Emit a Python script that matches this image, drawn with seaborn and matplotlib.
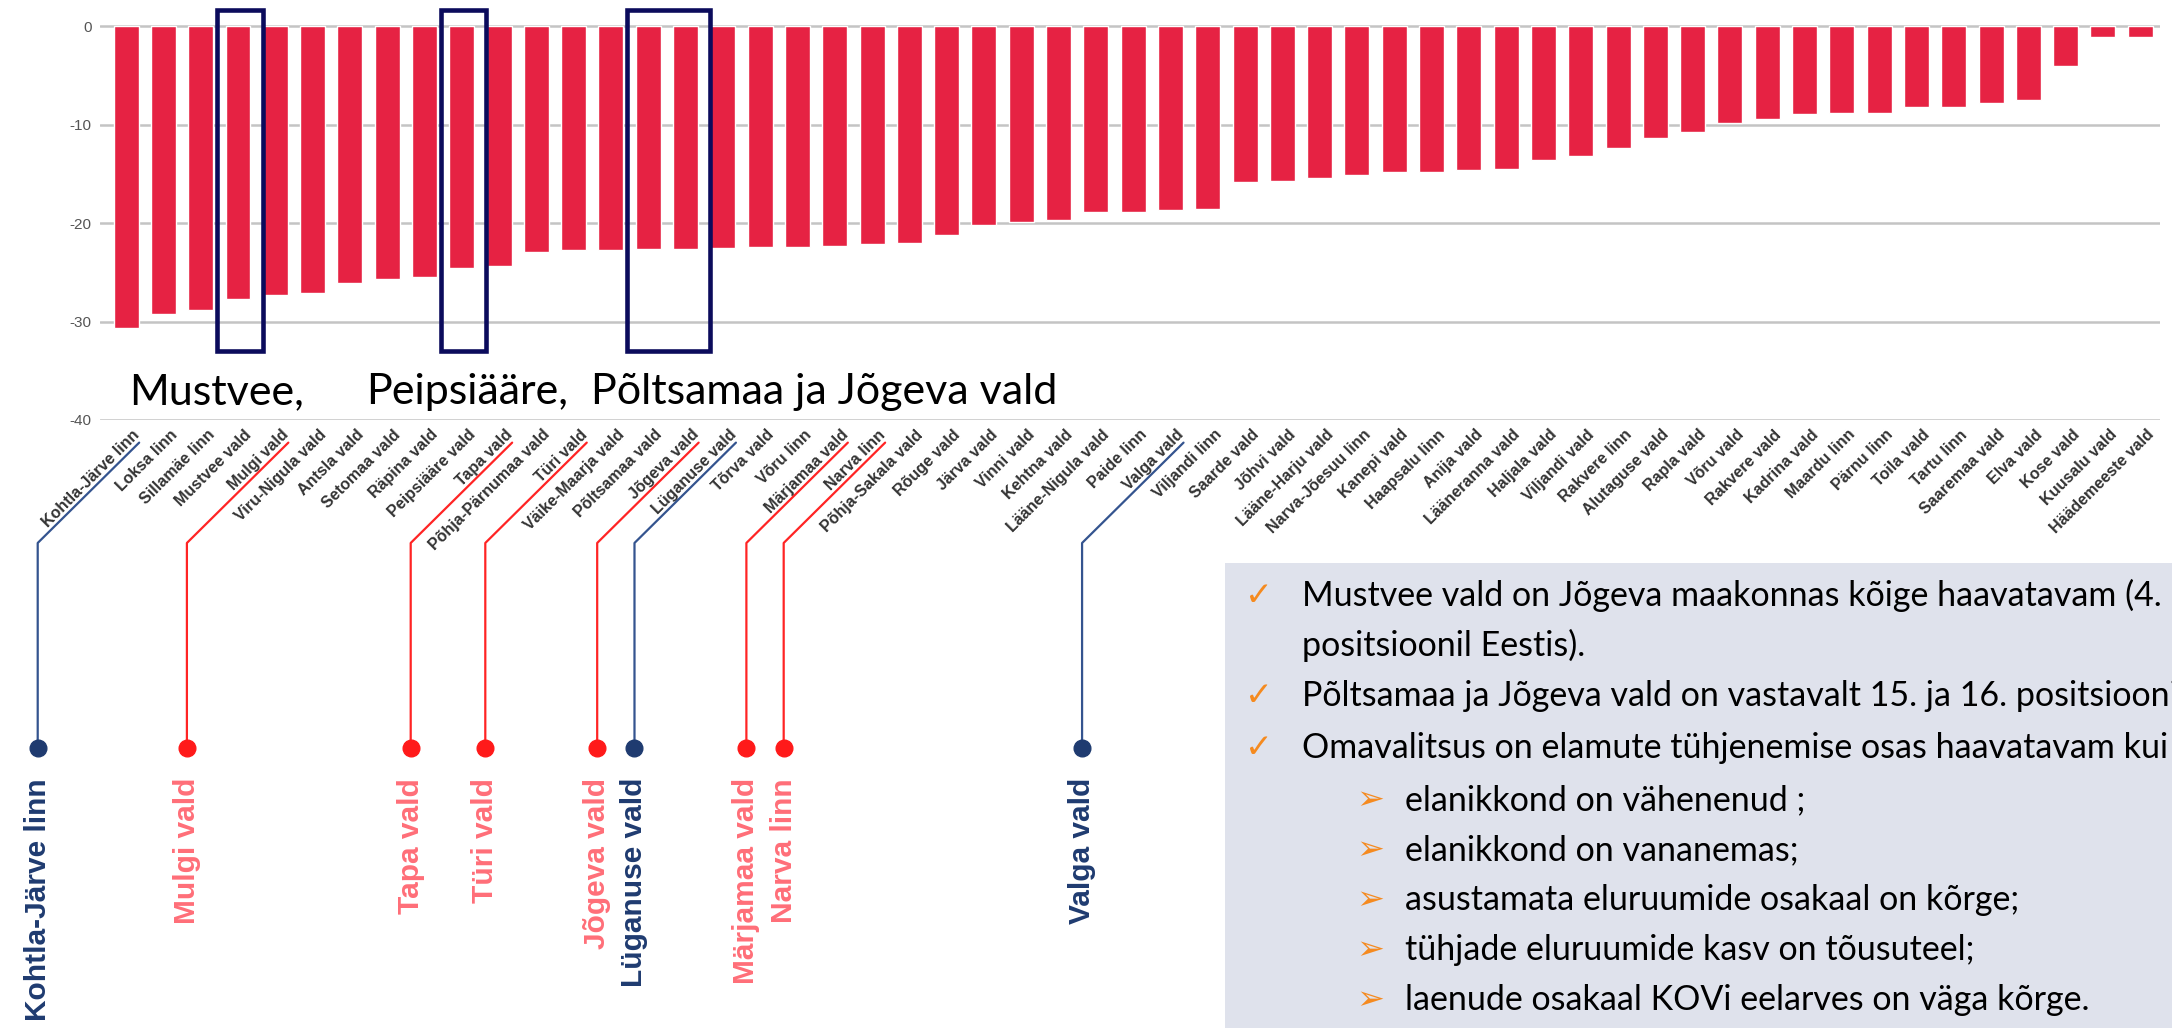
import matplotlib
matplotlib.use('Agg')
import matplotlib.pyplot as plt
from matplotlib.patches import Rectangle
from matplotlib.transforms import ScaledTranslation
import seaborn as sns
import pandas as pd

# omavalitsused ja nende väärtused
names = ['Kohtla-Järve linn', 'Loksa linn', 'Sillamäe linn', 'Mustvee vald', 'Mulgi vald',
         'Viru-Nigula vald', 'Antsla vald', 'Setomaa vald', 'Räpina vald', 'Peipsiääre vald',
         'Tapa vald', 'Põhja-Pärnumaa vald', 'Türi vald', 'Väike-Maarja vald', 'Põltsamaa vald',
         'Jõgeva vald', 'Lüganuse vald', 'Tõrva vald', 'Võru linn', 'Märjamaa vald',
         'Narva linn', 'Põhja-Sakala vald', 'Rõuge vald', 'Järva vald', 'Vinni vald',
         'Kehtna vald', 'Lääne-Nigula vald', 'Paide linn', 'Valga vald', 'Viljandi linn',
         'Saarde vald', 'Jõhvi vald', 'Lääne-Harju vald', 'Narva-Jõesuu linn', 'Kanepi vald',
         'Haapsalu linn', 'Anija vald', 'Lääneranna vald', 'Haljala vald', 'Viljandi vald',
         'Rakvere linn', 'Alutaguse vald', 'Rapla vald', 'Võru vald', 'Rakvere vald',
         'Kadrina vald', 'Maardu linn', 'Pärnu linn', 'Toila vald', 'Tartu linn',
         'Saaremaa vald', 'Elva vald', 'Kose vald', 'Kuusalu vald', 'Häädemeeste vald']

values = [-30.6, -29.2, -28.8, -27.7, -27.3, -27.1, -26.1, -25.7, -25.5, -24.5,
          -24.3, -22.9, -22.7, -22.7, -22.6, -22.6, -22.5, -22.4, -22.4, -22.3,
          -22.1, -22.0, -21.2, -20.2, -19.9, -19.7, -18.9, -18.9, -18.7, -18.6,
          -15.8, -15.7, -15.4, -15.1, -14.8, -14.8, -14.6, -14.5, -13.6, -13.2,
          -12.4, -11.3, -10.7, -9.8, -9.4, -8.9, -8.8, -8.8, -8.2, -8.2,
          -7.8, -7.5, -4.0, -1.1, -1.1]

y_ticks = [0, -10, -20, -30, -40]

# raamitud tulbad
highlight_groups = [['Mustvee vald'], ['Peipsiääre vald'], ['Põltsamaa vald', 'Jõgeva vald']]
highlight_texts = ['Mustvee,', 'Peipsiääre,', 'Põltsamaa ja Jõgeva vald']

callout_names = ['Kohtla-Järve linn', 'Mulgi vald', 'Tapa vald', 'Türi vald', 'Jõgeva vald',
                 'Lüganuse vald', 'Märjamaa vald', 'Narva linn', 'Valga vald']
callout_groups = ['blue', 'red', 'red', 'red', 'red', 'blue', 'red', 'red', 'blue']

bullets = ['Mustvee vald on Jõgeva maakonnas kõige haavatavam (4.',
           'positsioonil Eestis).',
           'Põltsamaa ja Jõgeva vald on vastavalt 15. ja 16. positsioonil',
           'Omavalitsus on elamute tühjenemise osas haavatavam kui']
sub_bullets = ['elanikkond on vähenenud ;',
               'elanikkond on vananemas;',
               'asustamata eluruumide osakaal on kõrge;',
               'tühjade eluruumide kasv on tõusuteel;',
               'laenude osakaal KOVi eelarves on väga kõrge.']

bar_color = '#E62243'
line_colors = {'red': '#FF2424', 'blue': '#34548F'}
text_colors = {'red': '#FF6E78', 'blue': '#1F3B70'}
dot_colors = {'red': '#FF1A1A', 'blue': '#1F3B70'}
slide_font = ['Lato', 'DejaVu Sans']

sns.set_style('white')
plt.rcParams['font.family'] = ['Liberation Sans', 'DejaVu Sans']
plt.rcParams['axes.unicode_minus'] = False

fig = plt.figure(figsize=(21.72, 10.28), dpi=100)
ax = fig.add_axes([0.04604, 0.59144, 0.94844, 0.40768])

df = pd.DataFrame({'name': names, 'value': values})
sns.barplot(data=df, x='name', y='value', color=bar_color, saturation=1,
            width=0.67, ax=ax)

ax.set_xlim(-0.70, 54.53)
ax.set_ylim(-40, 2.6)
ax.set_yticks(y_ticks)
ax.set_yticklabels([str(t) for t in y_ticks])
ax.yaxis.grid(True, color='#C4C4C4', linewidth=1.8)
ax.set_axisbelow(True)
for s in ax.spines.values():
    s.set_visible(False)
ax.set_xlabel('')
ax.set_ylabel('')
ax.tick_params(axis='y', length=0, pad=6, labelsize=11, labelcolor='#555555')
ax.tick_params(axis='x', length=0, pad=5)

ax.set_xticks(range(len(names)))
ax.set_xticklabels(names, rotation=45, ha='right', rotation_mode='anchor',
                   fontsize=11.5, fontweight='bold', color='#333333')
shift = ScaledTranslation(0.06, 0, fig.dpi_scale_trans)
for lab in ax.get_xticklabels():
    lab.set_transform(lab.get_transform() + shift)

# raamid ja suur tekst
text_x = [129, 366, 591]
for group, label, tx in zip(highlight_groups, highlight_texts, text_x):
    idx = [names.index(n) for n in group]
    x0 = min(idx) - 0.57
    x1 = max(idx) + 0.66
    ax.add_patch(Rectangle((x0, -33.0), x1 - x0, 34.7, fill=False,
                           edgecolor='#0B0B5C', linewidth=3.3, clip_on=False, zorder=5))
    fig.text(tx / 2172, 1 - 404 / 1028, label, fontsize=31, family=slide_font,
             color='black', va='baseline', ha='left')

# väljaviited
for name, group in zip(callout_names, callout_groups):
    i = names.index(name)
    xs = i + 0.35
    xd = xs - 2.72
    ax.plot([xs, xd, xd], [-42.3, -52.5, -73.3], color=line_colors[group],
            linewidth=1.6, clip_on=False, zorder=4)
    ax.plot([xd], [-73.3], marker='o', markersize=12, color=dot_colors[group],
            clip_on=False, zorder=5)
    ax.text(xd, -76.4, name, rotation=90, ha='center', va='top', fontsize=21.5,
            fontweight='bold', color=text_colors[group], clip_on=False)

# tekstikast
fig.patches.append(Rectangle((1225 / 2172, 0), 1 - 1225 / 2172, 1 - 563 / 1028,
                             transform=fig.transFigure, facecolor='#DFE2EC',
                             edgecolor='none', zorder=0))
orange = '#F58A1F'
rows = [595, 645, 696, 748, 800, 850, 900, 950, 1000]
texts = [(True, bullets[0]), (None, bullets[1]), (True, bullets[2]), (True, bullets[3])] + \
        [(False, s) for s in sub_bullets]
for y, (kind, t) in zip(rows, texts):
    fy = 1 - y / 1028
    if kind is True:
        fig.text(1245 / 2172, fy, '✓', fontsize=24, color=orange, va='center',
                 family=['DejaVu Sans'])
        fig.text(1302 / 2172, fy, t, fontsize=24.5, family=slide_font, va='center', color='black')
    elif kind is None:
        fig.text(1302 / 2172, fy, t, fontsize=24.5, family=slide_font, va='center', color='black')
    else:
        fig.text(1356 / 2172, fy, '➢', fontsize=24, color=orange, va='center',
                 family=['DejaVu Sans'])
        fig.text(1405 / 2172, fy, t, fontsize=24.5, family=slide_font, va='center', color='black')

fig.savefig('out.png', dpi=100)
